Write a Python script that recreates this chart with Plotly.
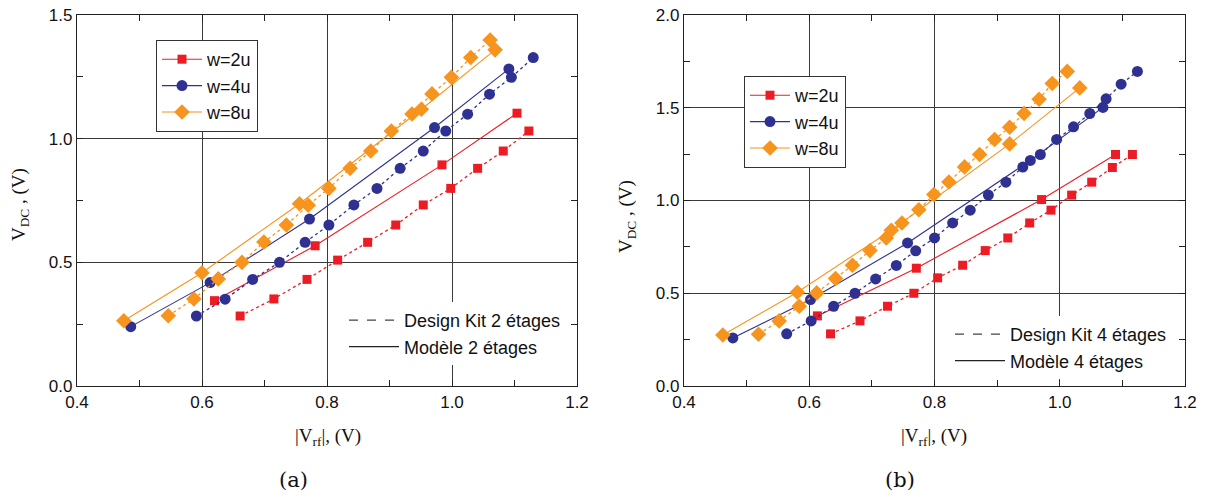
import plotly.graph_objects as go

# ---------------- data: panel (a) 2 stages ----------------
a_w2_model_x = [0.620, 0.781, 0.984, 1.104]
a_w2_model_y = [0.345, 0.567, 0.894, 1.103]
a_w2_kit_x = [0.661, 0.715, 0.768, 0.817, 0.865, 0.910, 0.954, 0.998, 1.041, 1.082, 1.123]
a_w2_kit_y = [0.283, 0.352, 0.431, 0.509, 0.581, 0.651, 0.732, 0.799, 0.880, 0.950, 1.031]

a_w4_model_x = [0.486, 0.613, 0.772, 0.972, 1.091]
a_w4_model_y = [0.240, 0.418, 0.675, 1.045, 1.282]
a_w4_kit_x = [0.591, 0.637, 0.681, 0.724, 0.765, 0.803, 0.843, 0.880, 0.917, 0.954, 0.990, 1.025, 1.060, 1.095, 1.130]
a_w4_kit_y = [0.283, 0.351, 0.431, 0.500, 0.581, 0.651, 0.732, 0.799, 0.880, 0.950, 1.031, 1.099, 1.180, 1.248, 1.328]

a_w8_model_x = [0.475, 0.600, 0.756, 0.951, 1.069]
a_w8_model_y = [0.264, 0.458, 0.737, 1.119, 1.359]
a_w8_kit_x = [0.546, 0.587, 0.626, 0.664, 0.699, 0.735, 0.770, 0.803, 0.837, 0.870, 0.903, 0.936, 0.968, 0.999, 1.030, 1.061]
a_w8_kit_y = [0.284, 0.352, 0.433, 0.500, 0.582, 0.651, 0.731, 0.799, 0.880, 0.950, 1.031, 1.100, 1.181, 1.248, 1.328, 1.399]

# ---------------- data: panel (b) 4 stages ----------------
b_w2_model_x = [0.613, 0.771, 0.971, 1.089]
b_w2_model_y = [0.378, 0.635, 1.005, 1.248]
b_w2_kit_x = [0.634, 0.681, 0.725, 0.767, 0.805, 0.845, 0.881, 0.917, 0.952, 0.986, 1.019, 1.051, 1.084, 1.116]
b_w2_kit_y = [0.281, 0.351, 0.430, 0.500, 0.583, 0.651, 0.730, 0.798, 0.879, 0.948, 1.029, 1.099, 1.178, 1.248]

b_w4_model_x = [0.478, 0.602, 0.757, 0.953, 1.069]
b_w4_model_y = [0.259, 0.466, 0.771, 1.216, 1.502]
b_w4_kit_x = [0.564, 0.603, 0.639, 0.673, 0.706, 0.739, 0.770, 0.800, 0.829, 0.857, 0.886, 0.914, 0.941, 0.969, 0.995, 1.022, 1.048, 1.074, 1.098, 1.124]
b_w4_kit_y = [0.281, 0.351, 0.430, 0.500, 0.577, 0.650, 0.729, 0.798, 0.879, 0.948, 1.029, 1.099, 1.180, 1.248, 1.329, 1.397, 1.469, 1.548, 1.627, 1.696]

b_w8_model_x = [0.462, 0.581, 0.731, 0.920, 1.032]
b_w8_model_y = [0.275, 0.505, 0.840, 1.305, 1.607]
b_w8_kit_x = [0.519, 0.552, 0.584, 0.612, 0.642, 0.669, 0.697, 0.723, 0.748, 0.775, 0.799, 0.823, 0.848, 0.872, 0.896, 0.920, 0.943, 0.967, 0.988, 1.012]
b_w8_kit_y = [0.279, 0.351, 0.430, 0.502, 0.579, 0.651, 0.730, 0.798, 0.879, 0.950, 1.032, 1.100, 1.181, 1.248, 1.329, 1.395, 1.469, 1.546, 1.631, 1.696]

series_names = ["w=2u", "w=4u", "w=8u"]
colors = ["#ED1C24", "#2E3192", "#F7941D"]
symbols = ["square", "circle", "diamond"]
msizes = [9, 11, 12]

x_ticks = [0.4, 0.6, 0.8, 1.0, 1.2]

fig = go.Figure()

panels = [
    ("x", "y", [(a_w2_model_x, a_w2_model_y, a_w2_kit_x, a_w2_kit_y),
                (a_w4_model_x, a_w4_model_y, a_w4_kit_x, a_w4_kit_y),
                (a_w8_model_x, a_w8_model_y, a_w8_kit_x, a_w8_kit_y)], "legend"),
    ("x2", "y2", [(b_w2_model_x, b_w2_model_y, b_w2_kit_x, b_w2_kit_y),
                  (b_w4_model_x, b_w4_model_y, b_w4_kit_x, b_w4_kit_y),
                  (b_w8_model_x, b_w8_model_y, b_w8_kit_x, b_w8_kit_y)], "legend2"),
]

for xa, ya, data, leg in panels:
    for i, (mx, my, kx, ky) in enumerate(data):
        fig.add_trace(go.Scatter(
            x=kx, y=ky, xaxis=xa, yaxis=ya, mode="lines+markers",
            line=dict(color=colors[i], width=1.3, dash="dot"),
            marker=dict(color=colors[i], symbol=symbols[i], size=msizes[i]),
            showlegend=False, hoverinfo="skip"))
        fig.add_trace(go.Scatter(
            x=mx, y=my, xaxis=xa, yaxis=ya, mode="lines+markers",
            line=dict(color=colors[i], width=1.1),
            marker=dict(color=colors[i], symbol=symbols[i], size=msizes[i]),
            name=series_names[i], legend=leg, showlegend=True, hoverinfo="skip"))

# style legends (Design Kit / Modèle)
for leg, nst in [("legend3", "2"), ("legend4", "4")]:
    fig.add_trace(go.Scatter(x=[None], y=[None], mode="lines",
                             line=dict(color="#444", width=1.2, dash="dash"),
                             name="Design Kit " + nst + " étages", legend=leg))
    fig.add_trace(go.Scatter(x=[None], y=[None], mode="lines",
                             line=dict(color="#222", width=1.2),
                             name="Modèle " + nst + " étages", legend=leg))

tickfont = dict(family="Liberation Sans, Arial", size=17, color="#111")
grid_col = "#3a3a3a"

def xaxis(domain, anchor):
    return dict(domain=domain, anchor=anchor, range=[0.4, 1.2], tickvals=x_ticks,
                ticktext=[f"{v:.1f}" for v in x_ticks], automargin=False,
                ticks="inside", ticklen=6, tickcolor="#222", showline=True, linecolor="#222",
                linewidth=1.2, mirror="allticks", showgrid=True, gridcolor=grid_col, gridwidth=1,
                minor=dict(dtick=0.1, tick0=0.4, ticks="inside", ticklen=6, tickcolor="#222", showgrid=False),
                tickfont=tickfont, zeroline=False, fixedrange=True)

def yaxis(rng, tv, anchor):
    return dict(domain=[0, 1], anchor=anchor, range=rng, tickvals=tv,
                ticktext=[f"{v:.1f}" for v in tv], automargin=False,
                ticks="inside", ticklen=6, tickcolor="#222", showline=True, linecolor="#222",
                linewidth=1.2, mirror="allticks", showgrid=True, gridcolor=grid_col, gridwidth=1,
                minor=dict(dtick=0.25, tick0=0, ticks="inside", ticklen=6, tickcolor="#222", showgrid=False),
                tickfont=tickfont, zeroline=False, fixedrange=True)

W, H = 1205, 497
top, bot = 15, 386
def py(p):
    return (bot - p) / (bot - top)

legfont = dict(family="Liberation Sans, Arial", size=18, color="#111")
stylefont = dict(family="Liberation Sans, Arial", size=18, color="#111")

fig.update_layout(
    width=W, height=H,
    margin=dict(l=0, r=0, t=top, b=H - bot, autoexpand=False),
    paper_bgcolor="white", plot_bgcolor="white",
    xaxis=xaxis([77 / W, 577 / W], "y"),
    yaxis=yaxis([0, 1.5], [0.0, 0.5, 1.0, 1.5], "x"),
    xaxis2=xaxis([684 / W, 1185 / W], "y2"),
    yaxis2=yaxis([0, 2.0], [0.0, 0.5, 1.0, 1.5, 2.0], "x2"),
    legend=dict(x=156 / W, y=py(40), xanchor="left", yanchor="top", bgcolor="white",
                bordercolor="#333", borderwidth=1, font=legfont, tracegroupgap=0,
                itemwidth=40),
    legend2=dict(x=744 / W, y=py(76), xanchor="left", yanchor="top", bgcolor="white",
                 bordercolor="#333", borderwidth=1, font=legfont, tracegroupgap=0,
                 itemwidth=40),
    legend3=dict(x=344 / W, y=py(302), xanchor="left", yanchor="top", bgcolor="white",
                 borderwidth=0, font=stylefont, itemwidth=50, tracegroupgap=0),
    legend4=dict(x=950 / W, y=py(316), xanchor="left", yanchor="top", bgcolor="white",
                 borderwidth=0, font=stylefont, itemwidth=50, tracegroupgap=0),
)

serif = "Liberation Serif, Times New Roman, serif"
def A(text, x, y, size, family=serif, angle=0):
    return dict(text=text, x=x / W, y=py(y), xref="paper", yref="paper",
                xanchor="center", yanchor="middle", textangle=angle,
                showarrow=False, font=dict(family=family, size=size, color="#111"))

ann = [
    A("|V<sub>rf</sub>|, (V)", 328, 437, 19),
    A("|V<sub>rf</sub>|, (V)", 934, 437, 19),
    A("(a)", 293, 480, 21, "DejaVu Serif, serif"),
    A("(b)", 900, 480, 21, "DejaVu Serif, serif"),
    A("V<sub>DC</sub> , (V)", 20, 205, 19, serif, -90),
    A("V<sub>DC</sub> , (V)", 627, 217, 19, serif, -90),
]
fig.update_layout(annotations=ann)

fig.write_html("out.html", config={"displayModeBar": False},
               post_script="document.body.style.margin='0px';document.body.style.padding='0px';")
